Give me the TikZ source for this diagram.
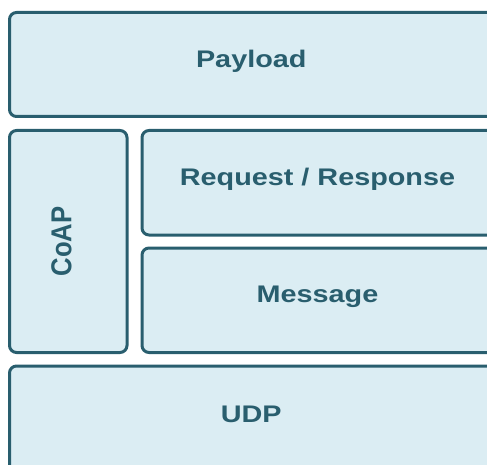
\documentclass[tikz,border=0pt]{standalone}
\usepackage{fontspec}
\setmainfont{Liberation Sans}
\usetikzlibrary{positioning}
\definecolor{layerline}{RGB}{41,94,110}
\definecolor{layerfill}{RGB}{219,237,243}
\newcommand{\wide}[1]{\kern-7pt\scalebox{1.2}[1]{#1}}
\begin{document}
\begin{tikzpicture}[x=1pt,y=-1pt,
  layer/.style={draw=layerline, fill=layerfill, line width=3pt,
    rounded corners=7pt, inner sep=0pt, text=layerline,
    font=\fontsize{24}{28}\selectfont\bfseries,
    text height=.72em, text depth=.2em}]
  \useasboundingbox (0,0) rectangle (487,465);
  \node[layer, minimum width=490.5, minimum height=104] (payload) at (254.75,64.5) {\wide{Payload}};
  \node[layer, minimum width=117.5, minimum height=222] (coap) at (68.25,241.5) {};
  \node[rotate=90, inner sep=0pt, text=layerline,
    font=\fontsize{24}{28}\selectfont\bfseries,
    text height=.86em, text depth=.24em] (coaplabel) at (coap.center) {\scalebox{1.07}[1.2]{CoAP}};
  \node[layer, minimum width=358, minimum height=104.5] (reqresp) at (321,182.75) {\wide{Request / Response}};
  \node[layer, minimum width=358, minimum height=104.5] (message) at (321,300.25) {\wide{Message}};
  \node[layer, minimum width=490.5, minimum height=108] (udp) at (254.75,420) {\wide{UDP}};
\end{tikzpicture}
\end{document}
